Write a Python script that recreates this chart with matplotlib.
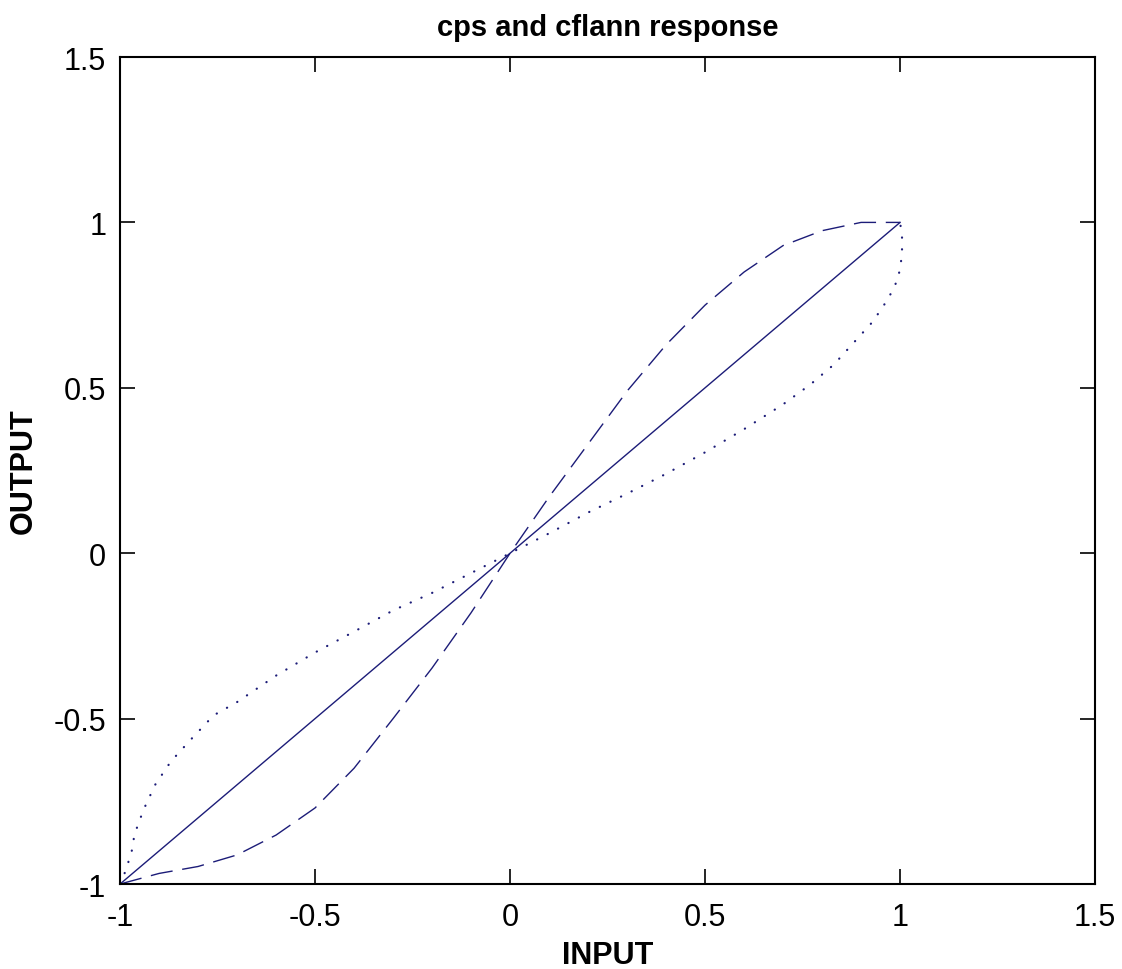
import matplotlib
matplotlib.use('Agg')
import matplotlib.pyplot as plt

plt.rcParams['font.family'] = ['Liberation Sans', 'DejaVu Sans']

# straight reference line
lin_x = [-1.0, 1.0]
lin_y = [-1.0, 1.0]

# dashed response
dash_x = [-1.0, -0.9, -0.8, -0.7, -0.6, -0.5, -0.4, -0.3, -0.2, -0.1, 0.0,
          0.1, 0.2, 0.3, 0.4, 0.5, 0.6, 0.7, 0.8, 0.9, 1.0]
dash_y = [-1.0, -0.968, -0.947, -0.912, -0.852, -0.77, -0.65, -0.50, -0.347, -0.18, 0.0,
          0.17, 0.33, 0.49, 0.63, 0.75, 0.85, 0.93, 0.975, 1.0, 1.0]

# dotted response
dot_x = [-1.0, -0.985, -0.97, -0.963, -0.94, -0.91, -0.87, -0.82, -0.76, -0.7, -0.6, -0.5,
         -0.4, -0.3, -0.2, -0.1, 0.0, 0.1, 0.2, 0.3, 0.4, 0.5, 0.6, 0.7, 0.77, 0.83,
         0.88, 0.93, 0.97, 0.995, 1.005, 1.005, 1.0]
dot_y = [-1.0, -0.958, -0.90, -0.85, -0.776, -0.70, -0.63, -0.565, -0.49, -0.45, -0.37, -0.30,
         -0.237, -0.173, -0.12, -0.06, 0.0, 0.06, 0.123, 0.18, 0.24, 0.305, 0.375, 0.45, 0.51, 0.57,
         0.635, 0.70, 0.77, 0.83, 0.90, 0.96, 1.0]

ticks = [-1, -0.5, 0, 0.5, 1, 1.5]
tick_labels = ['-1', '-0.5', '0', '0.5', '1', '1.5']

col = '#1c1c78'

fig = plt.figure(figsize=(11.22, 9.70), dpi=100)
ax = fig.add_axes([0.107, 0.0876, 0.869, 0.8526])

ax.plot(lin_x, lin_y, color=col, lw=1.0)
ax.plot(dash_x, dash_y, color=col, lw=1.0, linestyle=(0, (16, 7)))
ax.plot(dot_x, dot_y, color=col, lw=1.6, linestyle=(0, (0.1, 5.2)), dash_capstyle='round')

ax.set_xlim(-1, 1.5)
ax.set_ylim(-1, 1.5)
ax.set_xticks(ticks)
ax.set_xticklabels(tick_labels)
ax.set_yticks(ticks)
ax.set_yticklabels(tick_labels)
ax.tick_params(direction='in', length=11, width=1.2, labelsize=22,
               top=True, right=True, pad=10)
ax.tick_params(axis='x', pad=13)
for s in ax.spines.values():
    s.set_linewidth(1.5)

ax.set_title('cps and cflann response', fontsize=21, fontweight='bold', pad=16)
ax.set_xlabel('INPUT', fontsize=22, fontweight='bold', labelpad=6)
ax.set_ylabel('OUTPUT', fontsize=22, fontweight='bold', labelpad=22)
ax.yaxis.set_label_coords(-0.083, 0.5)

fig.savefig('out.png', dpi=100)
